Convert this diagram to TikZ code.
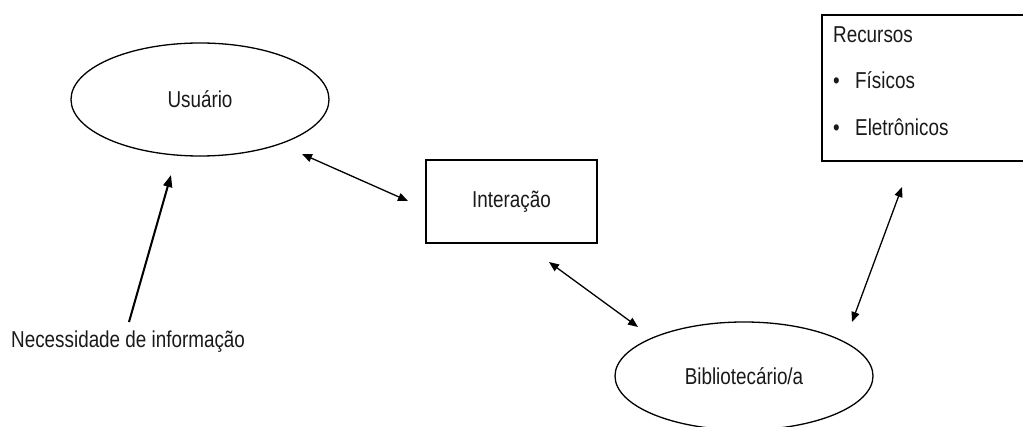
\documentclass[tikz,border=0pt]{standalone}
\usepackage{fontspec}
\setmainfont{Liberation Sans}[FakeStretch=0.82]
\usetikzlibrary{shapes.geometric,arrows.meta}
\begin{document}
\begin{tikzpicture}[x=1pt,y=-1pt,
  every node/.style={font=\fontsize{23}{27}\selectfont, text=black!90},
  oval/.style={ellipse, draw=black, line width=1.3pt, inner sep=0pt, minimum width=258pt},
  boxnode/.style={rectangle, draw=black, line width=1.3pt, inner sep=0pt},
  txt/.style={anchor=base west, inner sep=0pt},
  biarrow/.style={{Triangle[length=10pt,width=8pt]}-{Triangle[length=10pt,width=8pt]}, line width=1.3pt},
  thickarrow/.style={-{Triangle[length=12pt,width=9pt]}, line width=2pt}
]
\useasboundingbox (0,0) rectangle (1023,427);
\clip (0,0) rectangle (1023,427);

\node[oval, minimum height=113pt] (usuario) at (200,99.5) {Usuário};
\node[boxnode, minimum width=171pt, minimum height=83pt] (interacao) at (511.5,201.5) {Interação};
\node[oval, minimum height=108pt] (biblio) at (744,376) {Bibliotecário/a};
\node[boxnode, minimum width=210pt, minimum height=146pt] (recursos) at (927,88) {};

\node[txt] (rtitle) at (833,43) {Recursos};
\node[txt] (b1) at (833,89) {•};
\node[txt] (fisicos) at (855,89) {Físicos};
\node[txt] (b2) at (833,136) {•};
\node[txt] (eletronicos) at (855,136) {Eletrônicos};

\node[anchor=west, inner sep=0pt] (necessidade) at (11,342) {Necessidade de informação};

\coordinate (a1s) at (302,154);
\coordinate (a1e) at (408,201);
\coordinate (a2s) at (549,262);
\coordinate (a2e) at (638,327);
\coordinate (a3s) at (852,322);
\coordinate (a3e) at (902,187);
\coordinate (a4s) at (129,322);
\coordinate (a4e) at (171,175);

\draw[biarrow] (a1s) -- (a1e);
\draw[biarrow] (a2s) -- (a2e);
\draw[biarrow] (a3s) -- (a3e);
\draw[thickarrow] (a4s) -- (a4e);
\end{tikzpicture}
\end{document}
